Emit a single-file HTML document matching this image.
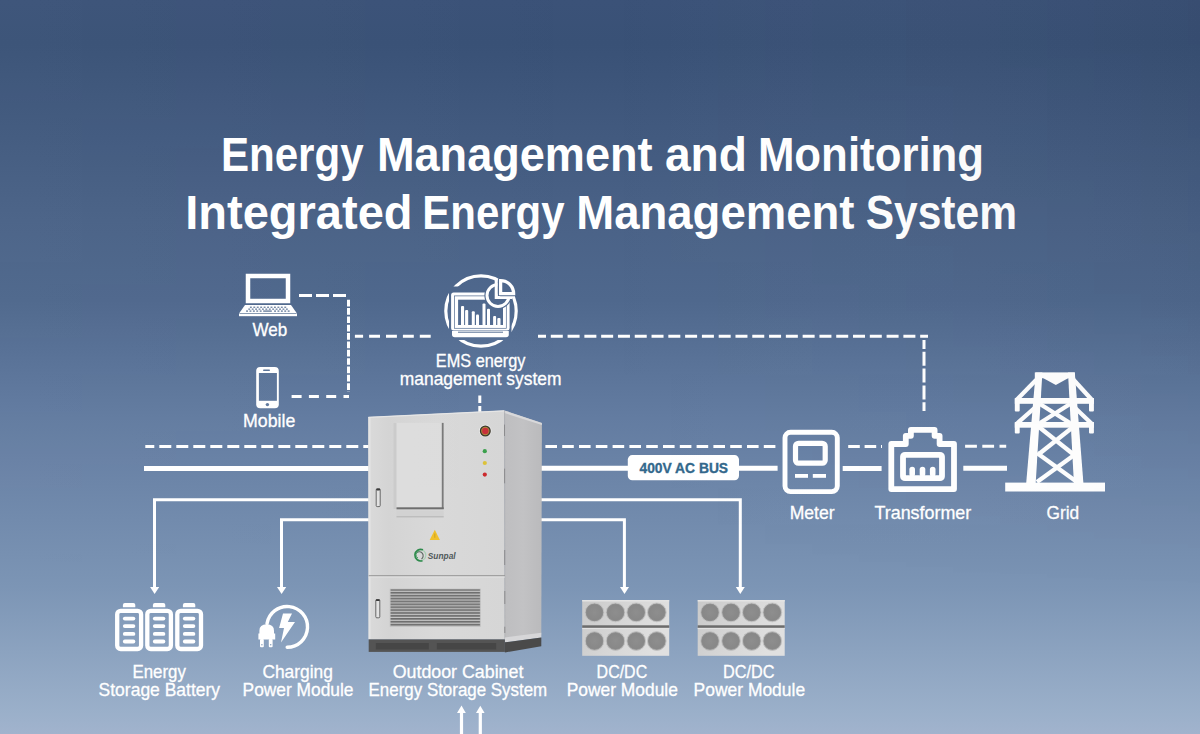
<!DOCTYPE html>
<html><head><meta charset="utf-8">
<style>
html,body{margin:0;padding:0;width:1200px;height:734px;overflow:hidden;background:#5a7399;}
svg{display:block;position:absolute;left:0;top:0;}
text{font-family:"Liberation Sans",sans-serif;}
</style></head>
<body>
<svg width="1200" height="734" viewBox="0 0 1200 734">
<defs>
<linearGradient id="bg" gradientUnits="userSpaceOnUse" x1="0" y1="0" x2="0" y2="734">
<stop offset="0" stop-color="#3b5278"/>
<stop offset="0.06" stop-color="#395176"/>
<stop offset="0.30" stop-color="#4a6287"/>
<stop offset="0.409" stop-color="#4f688d"/>
<stop offset="0.57" stop-color="#637ca1"/>
<stop offset="0.80" stop-color="#7c95b5"/>
<stop offset="0.973" stop-color="#9bb0ca"/>
<stop offset="1" stop-color="#a1b3cd"/>
</linearGradient>
</defs>
<rect x="0" y="0" width="1200" height="734" fill="url(#bg)"/>

<!-- TITLE -->
<g fill="#ffffff" font-weight="bold" font-size="48">
<text x="220.9" y="171" textLength="142.7" lengthAdjust="spacingAndGlyphs">Energy</text>
<text x="377.0" y="171" textLength="275.5" lengthAdjust="spacingAndGlyphs">Management</text>
<text x="664.9" y="171" textLength="82.0" lengthAdjust="spacingAndGlyphs">and</text>
<text x="757.9" y="171" textLength="226.2" lengthAdjust="spacingAndGlyphs">Monitoring</text>
<text x="185.3" y="229" textLength="227.2" lengthAdjust="spacingAndGlyphs">Integrated</text>
<text x="422.3" y="229" textLength="142.3" lengthAdjust="spacingAndGlyphs">Energy</text>
<text x="576.3" y="229" textLength="278.1" lengthAdjust="spacingAndGlyphs">Management</text>
<text x="865.7" y="229" textLength="151.3" lengthAdjust="spacingAndGlyphs">System</text>
</g>

<!-- DASHED LINES -->
<g stroke="#ffffff" stroke-width="3" fill="none">
<line x1="299" y1="295.5" x2="347" y2="295.5" stroke-dasharray="13 4"/>
<line x1="348.5" y1="299.7" x2="348.5" y2="391.8" stroke-dasharray="6.7 1.65"/>
<line x1="354.9" y1="336.3" x2="431" y2="336.3" stroke-dasharray="10.9 6" stroke-dashoffset="2.7"/>
<line x1="291.6" y1="396.5" x2="349" y2="396.5" stroke-dasharray="10 7.3"/>
<line x1="538" y1="336.3" x2="928" y2="336.3" stroke-dasharray="12 4.79" stroke-dashoffset="4"/>
<line x1="924" y1="340" x2="924" y2="411" stroke-dasharray="14 2.8" stroke-dashoffset="5"/>
<line x1="479.8" y1="395.5" x2="479.8" y2="412" stroke-dasharray="7.5 3"/>
<line x1="145.3" y1="446.5" x2="370" y2="446.5" stroke-dasharray="12 5" stroke-dashoffset="3"/>
<line x1="545.4" y1="446.5" x2="776" y2="446.5" stroke-dasharray="11.6 5.2"/>
<line x1="848.2" y1="446.5" x2="882" y2="446.5" stroke-dasharray="11.6 4.8"/>
<line x1="965.1" y1="446.3" x2="1006.2" y2="446.3" stroke-dasharray="11.8 5.4"/>
</g>

<!-- SOLID LINES -->
<g stroke="#ffffff" fill="none">
<line x1="144" y1="468.5" x2="372" y2="468.5" stroke-width="5"/>
<line x1="540" y1="468.3" x2="628" y2="468.3" stroke-width="5"/>
<line x1="738" y1="468.3" x2="777.6" y2="468.3" stroke-width="5"/>
<line x1="842.7" y1="468.4" x2="881.6" y2="468.4" stroke-width="5"/>
<line x1="963.3" y1="468.3" x2="1007" y2="468.3" stroke-width="5"/>
<polyline points="154.5,588 154.5,499.8 372,499.8" stroke-width="3"/>
<polyline points="281.5,588 281.5,519.7 372,519.7" stroke-width="3"/>
<polyline points="540,499.8 740.3,499.8 740.3,588" stroke-width="3"/>
<polyline points="540,519.7 624.4,519.7 624.4,588" stroke-width="3"/>
<line x1="461.5" y1="712" x2="461.5" y2="734" stroke-width="3.2"/>
<line x1="480.3" y1="712" x2="480.3" y2="734" stroke-width="3.2"/>
</g>
<g fill="#ffffff">
<polygon points="150.1,587 159.2,587 154.6,594.1"/>
<polygon points="277,587 286.2,587 281.6,594.1"/>
<polygon points="620,587 629,587 624.5,594.1"/>
<polygon points="735.8,587 744.8,587 740.3,594.1"/>
<polygon points="457,713 465.8,713 461.5,705.6"/>
<polygon points="476,713 484.6,713 480.3,705.8"/>
</g>

<!-- LABELS -->
<g fill="#ffffff" stroke="#ffffff" stroke-width="0.3" font-size="17.8" lengthAdjust="spacingAndGlyphs">
<text x="252.4" y="336" textLength="34.8" lengthAdjust="spacingAndGlyphs">Web</text>
<text x="243.0" y="427" textLength="52.3" lengthAdjust="spacingAndGlyphs">Mobile</text>
<text x="435.8" y="367" textLength="89.7" lengthAdjust="spacingAndGlyphs">EMS energy</text>
<text x="399.8" y="385" textLength="161.7" lengthAdjust="spacingAndGlyphs">management system</text>
<text x="789.7" y="518.5" textLength="44.9" lengthAdjust="spacingAndGlyphs">Meter</text>
<text x="874.5" y="518.5" textLength="96.7" lengthAdjust="spacingAndGlyphs">Transformer</text>
<text x="1046.5" y="518.5" textLength="32.7" lengthAdjust="spacingAndGlyphs">Grid</text>
<text x="132.5" y="678.2" textLength="53.4" lengthAdjust="spacingAndGlyphs">Energy</text>
<text x="98.6" y="695.8" textLength="121.5" lengthAdjust="spacingAndGlyphs">Storage Battery</text>
<text x="262.4" y="678.2" textLength="70.5" lengthAdjust="spacingAndGlyphs">Charging</text>
<text x="242.6" y="695.8" textLength="110.9" lengthAdjust="spacingAndGlyphs">Power Module</text>
<text x="392.7" y="678.2" textLength="130.7" lengthAdjust="spacingAndGlyphs">Outdoor Cabinet</text>
<text x="368.6" y="695.8" textLength="178.6" lengthAdjust="spacingAndGlyphs">Energy Storage System</text>
<text x="596.6" y="678.2" textLength="50.6" lengthAdjust="spacingAndGlyphs">DC/DC</text>
<text x="566.7" y="695.8" textLength="111.2" lengthAdjust="spacingAndGlyphs">Power Module</text>
<text x="723.0" y="678.2" textLength="51.5" lengthAdjust="spacingAndGlyphs">DC/DC</text>
<text x="693.6" y="695.8" textLength="111.5" lengthAdjust="spacingAndGlyphs">Power Module</text>
</g>

<!-- CABINET -->
<defs>
<linearGradient id="sideg" x1="0" y1="0" x2="1" y2="0">
<stop offset="0" stop-color="#bebec0"/>
<stop offset="0.5" stop-color="#c2c2c4"/>
<stop offset="1" stop-color="#bababc"/>
</linearGradient>
<linearGradient id="frontg" x1="0" y1="0" x2="1" y2="0">
<stop offset="0" stop-color="#dadada"/>
<stop offset="0.15" stop-color="#d4d4d4"/>
<stop offset="0.5" stop-color="#d9d9d9"/>
<stop offset="1" stop-color="#d6d6d6"/>
</linearGradient>
<linearGradient id="ventg" x1="0" y1="0" x2="0" y2="1">
<stop offset="0" stop-color="#6a6a6a"/>
<stop offset="0.45" stop-color="#6a6a6a"/>
<stop offset="0.55" stop-color="#d2d2d2"/>
<stop offset="1" stop-color="#d2d2d2"/>
</linearGradient>
<pattern id="ventp" x="0" y="589" width="10" height="2.9" patternUnits="userSpaceOnUse">
<rect x="0" y="0" width="10" height="1.8" fill="#6c6c6c"/>
<rect x="0" y="1.8" width="10" height="1.1" fill="#c4c4c4"/>
</pattern>
</defs>
<g>
<polygon points="504.3,410.4 541.9,422.9 541.3,634.4 504.9,639.4" fill="url(#sideg)"/>
<polygon points="504.3,410.4 541.9,422.9 541.9,425 504.3,413" fill="#d8d8da"/>
<polygon points="368.2,416.9 504.3,410.4 504.9,639.4 368.7,639.4" fill="url(#frontg)"/>
<line x1="369.5" y1="417" x2="369.5" y2="639" stroke="#e4e4e4" stroke-width="2"/>
<line x1="368.4" y1="417.3" x2="504" y2="410.8" stroke="#e6e6e6" stroke-width="1.2"/>
<line x1="504.6" y1="411" x2="504.9" y2="639" stroke="#b0b0b2" stroke-width="0.8"/>
<g stroke="#8c8c8e" stroke-width="1">
<line x1="504.5" y1="424.6" x2="504.5" y2="436"/>
<line x1="504.6" y1="468.6" x2="504.6" y2="483.3"/>
<line x1="504.7" y1="550" x2="504.7" y2="565"/>
<line x1="504.8" y1="591" x2="504.8" y2="604"/>
<line x1="504.8" y1="626.7" x2="504.8" y2="633"/>
</g>
<!-- window -->
<rect x="393.5" y="423" width="4" height="86" fill="#cbcbcb"/>
<rect x="396.5" y="422.9" width="46.5" height="85.9" fill="#dddddd"/>
<rect x="441.8" y="422.9" width="1.8" height="86" fill="#7a7a7a"/>
<rect x="396.5" y="507.3" width="47.2" height="2" fill="#6e6e6e"/>
<rect x="396.5" y="510.6" width="47.2" height="6.5" fill="#d2d2d2"/>
<rect x="396.5" y="516.2" width="47.2" height="1.2" fill="#b9b9b9"/>
<!-- handles -->
<rect x="376.2" y="488.9" width="4" height="17.7" rx="1" fill="#e2e2e2" stroke="#5a5a5a" stroke-width="0.9"/>
<rect x="376.2" y="488.6" width="4" height="1.8" rx="0.8" fill="#3a3a3a"/>
<rect x="375.8" y="599.6" width="4" height="18.2" rx="1" fill="#e2e2e2" stroke="#5a5a5a" stroke-width="0.9"/>
<rect x="375.8" y="599.3" width="4" height="1.8" rx="0.8" fill="#3a3a3a"/>
<!-- button & leds -->
<circle cx="485.3" cy="431" r="6.2" fill="#ececec"/>
<circle cx="485.3" cy="431" r="5.5" fill="#3c382c"/>
<circle cx="485.3" cy="431" r="4.2" fill="#a88a3c"/>
<circle cx="485.3" cy="431" r="3.2" fill="#c8303a"/>
<circle cx="484.8" cy="451.2" r="2.1" fill="#3aa04c"/>
<circle cx="484.8" cy="463" r="2.1" fill="#dcc23a"/>
<circle cx="484.8" cy="474.6" r="2.1" fill="#cc2a2e"/>
<!-- warning -->
<polygon points="434.8,529.7 439.9,539.9 429.7,539.9" fill="#f0c02c"/>
<line x1="434.8" y1="533.5" x2="434.8" y2="537.8" stroke="#c89a20" stroke-width="0.8"/>
<!-- logo -->
<circle cx="420.2" cy="555.2" r="5.6" fill="none" stroke="#a9cfb4" stroke-width="1.2"/>
<path d="M423 549.8 A5.8 5.8 0 1 0 422.5 560.7" fill="none" stroke="#2e8a4c" stroke-width="1.7"/>
<path d="M416.8 552.5 A3.9 3.9 0 1 1 421.5 559" fill="none" stroke="#5f6b64" stroke-width="1.1"/>
<path d="M418.5 551.5 A3.5 3.5 0 0 0 418 558" fill="none" stroke="#4e9e68" stroke-width="1"/>
<text x="427.8" y="559.2" font-size="9" font-weight="bold" font-style="italic" fill="#50585a" textLength="27.8" lengthAdjust="spacingAndGlyphs">Sunpal</text>
<!-- divider -->
<line x1="368.7" y1="575.8" x2="504.9" y2="575.8" stroke="#8a8a8a" stroke-width="1"/>
<line x1="368.7" y1="577" x2="504.9" y2="577" stroke="#e2e2e2" stroke-width="1"/>
<!-- vent -->
<rect x="390.1" y="589" width="90.2" height="37.5" fill="url(#ventp)"/>
<rect x="390.1" y="589" width="90.2" height="37.5" fill="none" stroke="#c4c4c4" stroke-width="0.8"/>
<!-- side bottom ledge -->
<polygon points="504.9,637.5 541.3,632.8 541.3,637.6 504.9,642.3" fill="#d6d6d8"/>
<!-- plinth -->
<rect x="368.7" y="639.4" width="136.2" height="12.5" fill="#545454"/>
<rect x="375.8" y="643" width="53" height="6.5" fill="#464646"/>
<rect x="436.8" y="643" width="59.4" height="6.5" fill="#464646"/>
<polygon points="504.9,642.3 541.3,637.6 541.3,646.3 504.9,652.4" fill="#4a4a4a"/>
<line x1="368.7" y1="639.6" x2="541.3" y2="634.6" stroke="#e0e0e0" stroke-width="0"/>
</g>

<!-- WEB ICON -->
<g>
<rect x="248" y="276" width="40" height="25" fill="none" stroke="#fff" stroke-width="4.5"/>
<polygon points="245,305 291,305 297,313.6 239,313.6" fill="#fff"/>
<rect x="239" y="313.4" width="58" height="2.8" fill="#fff"/>
<line x1="239.5" y1="313.5" x2="296.5" y2="313.5" stroke="url(#bg)" stroke-width="0.6"/>
<g fill="url(#bg)" opacity="0.85">
<rect x="249.90" y="306.6" width="1.9" height="1.3"/>
<rect x="253.34" y="306.6" width="1.9" height="1.3"/>
<rect x="256.78" y="306.6" width="1.9" height="1.3"/>
<rect x="260.22" y="306.6" width="1.9" height="1.3"/>
<rect x="263.66" y="306.6" width="1.9" height="1.3"/>
<rect x="267.10" y="306.6" width="1.9" height="1.3"/>
<rect x="270.54" y="306.6" width="1.9" height="1.3"/>
<rect x="273.98" y="306.6" width="1.9" height="1.3"/>
<rect x="277.42" y="306.6" width="1.9" height="1.3"/>
<rect x="280.86" y="306.6" width="1.9" height="1.3"/>
<rect x="284.30" y="306.6" width="1.9" height="1.3"/>
<rect x="248.30" y="308.5" width="1.9" height="1.3"/>
<rect x="251.72" y="308.5" width="1.9" height="1.3"/>
<rect x="255.14" y="308.5" width="1.9" height="1.3"/>
<rect x="258.55" y="308.5" width="1.9" height="1.3"/>
<rect x="261.97" y="308.5" width="1.9" height="1.3"/>
<rect x="265.39" y="308.5" width="1.9" height="1.3"/>
<rect x="268.81" y="308.5" width="1.9" height="1.3"/>
<rect x="272.23" y="308.5" width="1.9" height="1.3"/>
<rect x="275.65" y="308.5" width="1.9" height="1.3"/>
<rect x="279.06" y="308.5" width="1.9" height="1.3"/>
<rect x="282.48" y="308.5" width="1.9" height="1.3"/>
<rect x="285.90" y="308.5" width="1.9" height="1.3"/>
<rect x="246.10" y="310.4" width="1.9" height="1.4"/>
<rect x="249.50" y="310.4" width="1.9" height="1.4"/>
<rect x="252.90" y="310.4" width="1.9" height="1.4"/>
<rect x="256.30" y="310.4" width="1.9" height="1.4"/>
<rect x="259.70" y="310.4" width="1.9" height="1.4"/>
<rect x="263.2" y="310.4" width="8.6" height="1.4"/>
<rect x="274.10" y="310.4" width="1.9" height="1.4"/>
<rect x="277.50" y="310.4" width="1.9" height="1.4"/>
<rect x="280.90" y="310.4" width="1.9" height="1.4"/>
<rect x="284.30" y="310.4" width="1.9" height="1.4"/>
<rect x="287.70" y="310.4" width="1.9" height="1.4"/>
</g>
</g>

<!-- MOBILE ICON -->
<g>
<rect x="256.2" y="367" width="22.6" height="41.2" rx="4" fill="#fff"/>
<rect x="258.9" y="373" width="18" height="27.8" fill="url(#bg)"/>
<rect x="263" y="369.4" width="7" height="1.6" rx="0.8" fill="url(#bg)"/>
<circle cx="267.4" cy="404.6" r="1.7" fill="url(#bg)"/>
</g>

<!-- EMS ICON -->
<g>
<circle cx="481" cy="311" r="35.2" fill="none" stroke="#fff" stroke-width="3.2"/>
<rect x="449" y="286.5" width="62.5" height="53.5" rx="3" fill="url(#bg)"/>
<rect x="451.1" y="292.4" width="58.5" height="38" rx="2.5" fill="#fff"/>
<rect x="458.1" y="299.7" width="44.9" height="25.3" fill="url(#bg)"/>
<rect x="454.6" y="295.9" width="51.7" height="32.4" fill="none" stroke="url(#bg)" stroke-width="0.7"/>
<path d="M452 331 H508.8 V334.5 Q508.8 337.3 506 337.3 H454.8 Q452 337.3 452 334.5 Z" fill="#fff"/>
<line x1="458" y1="332.2" x2="503" y2="332.2" stroke="url(#bg)" stroke-width="1"/>
<g fill="#fff">
<rect x="461" y="305.9" width="3.1" height="20" rx="1"/>
<rect x="465.1" y="310" width="3.1" height="16" rx="1"/>
<rect x="471.8" y="311.2" width="3" height="15" rx="1"/>
<rect x="476" y="314.4" width="3" height="12" rx="1"/>
<rect x="482.5" y="303.4" width="3" height="22" rx="1"/>
<rect x="487" y="308.7" width="3" height="17" rx="1"/>
<rect x="493.1" y="316.1" width="3" height="10" rx="1"/>
<rect x="497.3" y="318.1" width="3.2" height="8" rx="1"/>
</g>
<circle cx="498" cy="295.5" r="13.6" fill="url(#bg)"/>
<circle cx="498" cy="295.5" r="11" fill="none" stroke="#fff" stroke-width="3"/>
<path d="M496.3 280 V297.5 H512" fill="none" stroke="#fff" stroke-width="3.2"/>
<path d="M500.6 293.6 V280.6 A13 13 0 0 1 513.6 293.6 Z" fill="url(#bg)" stroke="url(#bg)" stroke-width="5.5" stroke-linejoin="round"/>
<path d="M500.6 293.6 V280.6 A13 13 0 0 1 513.6 293.6 Z" fill="none" stroke="#fff" stroke-width="3.3" stroke-linejoin="miter"/>
</g>

<!-- METER ICON -->
<g fill="none" stroke="#fff">
<rect x="785" y="432.3" width="52.3" height="59.3" rx="5.5" stroke-width="4.9"/>
<rect x="795.5" y="443.3" width="29.7" height="19.9" rx="3" stroke-width="5.2"/>
</g>
<rect x="795" y="474" width="13" height="3.8" fill="#fff"/>
<rect x="812.8" y="474" width="13.2" height="3.8" fill="#fff"/>

<!-- TRANSFORMER ICON -->
<g fill="none" stroke="#fff" stroke-width="5.8" stroke-linejoin="round">
<path d="M891.3 444 H905.8 V435.8 H910.9 V429.9 H934.6 V435.8 H939.6 V444 H954 V489.1 H891.3 Z"/>
<rect x="903" y="454.8" width="39" height="23.4" rx="2"/>
</g>
<g fill="#fff">
<rect x="909.4" y="466.8" width="5.6" height="10" rx="2.8"/>
<rect x="919.7" y="466.8" width="5.6" height="10" rx="2.8"/>
<rect x="929.9" y="466.8" width="5.6" height="10" rx="2.8"/>
</g>

<!-- GRID TOWER -->
<g fill="#fff">
<rect x="1005.2" y="482.6" width="99.8" height="8.9"/>
<rect x="1034.8" y="372.4" width="40" height="5.8"/>
<polygon points="1035.7,372.4 1042.4,372.4 1035.7,483 1026.2,483"/>
<polygon points="1068,372.4 1074.8,372.4 1083.4,483 1073.9,483"/>
<rect x="1014.8" y="398" width="79.1" height="5.8"/>
<rect x="1014.8" y="398" width="4.9" height="13.5" rx="1"/>
<rect x="1089" y="398" width="4.9" height="13.5" rx="1"/>
<rect x="1014.8" y="422" width="79.1" height="5.7"/>
<rect x="1014.8" y="422" width="4.9" height="11.4" rx="1"/>
<rect x="1089" y="422" width="4.9" height="11.4" rx="1"/>
<polygon points="1043,378 1068.5,378 1055.8,385"/>
</g>
<g stroke="#fff" stroke-width="4.3" fill="none">
<line x1="1039" y1="377" x2="1016.5" y2="400"/>
<line x1="1071" y1="377" x2="1092" y2="400"/>
<line x1="1039" y1="404" x2="1016.5" y2="424"/>
<line x1="1071" y1="404" x2="1092" y2="424"/>
<line x1="1040" y1="404" x2="1070" y2="423"/>
<line x1="1070" y1="404" x2="1040" y2="423"/>
<line x1="1039" y1="427" x2="1073" y2="454"/>
<line x1="1073" y1="427" x2="1039" y2="454"/>
<line x1="1037" y1="453" x2="1077" y2="482"/>
<line x1="1077" y1="453" x2="1037" y2="482"/>
</g>

<!-- BATTERY ICON -->
<g>
<g fill="none" stroke="#fff" stroke-width="4.3">
<rect x="117.2" y="610.8" width="23.9" height="38.2" rx="3.5"/>
<rect x="147.3" y="610.8" width="23.6" height="38.2" rx="3.5"/>
<rect x="177.3" y="610.8" width="23.7" height="38.2" rx="3.5"/>
</g>
<g fill="#fff">
<path d="M122.9 607.3 V604.9 Q122.9 602.9 124.9 602.9 H133.3 Q135.3 602.9 135.3 604.9 V607.3 Z"/>
<path d="M152.9 607.3 V604.9 Q152.9 602.9 154.9 602.9 H163.3 Q165.3 602.9 165.3 604.9 V607.3 Z"/>
<path d="M182.9 607.3 V604.9 Q182.9 602.9 184.9 602.9 H193.3 Q195.3 602.9 195.3 604.9 V607.3 Z"/>
<rect x="122.9" y="616.7" width="12.4" height="3.8" rx="1.9"/>
<rect x="122.9" y="624.2" width="12.4" height="3.8" rx="1.9"/>
<rect x="122.9" y="632" width="12.4" height="3.8" rx="1.9"/>
<rect x="122.9" y="639.6" width="12.4" height="3.8" rx="1.9"/>
<rect x="152.9" y="616.7" width="12.4" height="3.8" rx="1.9"/>
<rect x="152.9" y="624.2" width="12.4" height="3.8" rx="1.9"/>
<rect x="152.9" y="632" width="12.4" height="3.8" rx="1.9"/>
<rect x="152.9" y="639.6" width="12.4" height="3.8" rx="1.9"/>
<rect x="182.9" y="616.7" width="12.4" height="3.8" rx="1.9"/>
<rect x="182.9" y="624.2" width="12.4" height="3.8" rx="1.9"/>
<rect x="182.9" y="632" width="12.4" height="3.8" rx="1.9"/>
<rect x="182.9" y="639.6" width="12.4" height="3.8" rx="1.9"/>
</g>
</g>

<!-- CHARGING ICON -->
<g>
<path d="M287.2 647.3 A20.4 20.4 0 1 0 267 623.6" fill="none" stroke="#fff" stroke-width="3.4" stroke-linecap="round"/>
<path d="M258.4 639.6 V633.6 H259.4 V630.8 Q259.4 624.3 266.7 624.3 Q274 624.3 274 630.8 V633.6 H275.2 V639.6 Z" fill="#fff"/>
<rect x="260" y="639" width="3.8" height="8.2" rx="1" fill="#fff"/>
<rect x="268.8" y="639" width="3.8" height="8.2" rx="1" fill="#fff"/>
<circle cx="261.9" cy="644.8" r="0.8" fill="url(#bg)"/>
<circle cx="270.7" cy="644.8" r="0.8" fill="url(#bg)"/>
<polygon points="283,613.4 292,613.4 287.8,622 295,622 281,642.5 284,628.1 279.1,628.1" fill="#fff"/>
</g>

<!-- DC/DC MODULES -->
<defs>
<linearGradient id="dcg" x1="0" y1="0" x2="1" y2="0.3">
<stop offset="0" stop-color="#c9c9c9"/>
<stop offset="0.5" stop-color="#d6d6d6"/>
<stop offset="1" stop-color="#e0e0e0"/>
</linearGradient>
<radialGradient id="dccirc" cx="0.5" cy="0.5" r="0.5">
<stop offset="0" stop-color="#8e8e8e"/>
<stop offset="0.8" stop-color="#888888"/>
<stop offset="1" stop-color="#9a9a9a"/>
</radialGradient>
</defs>
<g id="dc1">
<rect x="582.2" y="600" width="87" height="55.8" fill="url(#dcg)"/>
<rect x="582.2" y="600" width="87" height="1.5" fill="#e4e4e4"/>
<rect x="582.2" y="625.3" width="87" height="2.6" fill="#6c6c6c"/>
<rect x="582.2" y="627.9" width="87" height="1.2" fill="#e2e2e2"/>
<g fill="url(#dccirc)" stroke="#c4c4c4" stroke-width="0.9">
<circle cx="594.5" cy="612.4" r="9.4"/><circle cx="615.5" cy="612.4" r="9.4"/><circle cx="636.2" cy="612.4" r="9.4"/><circle cx="656.8" cy="612.4" r="9.4"/>
<circle cx="594.5" cy="641" r="9.4"/><circle cx="615.5" cy="641" r="9.4"/><circle cx="636.2" cy="641" r="9.4"/><circle cx="656.8" cy="641" r="9.4"/>
</g>
</g>
<use href="#dc1" x="115.5" y="0"/>

<!-- AC BUS LABEL -->
<rect x="627.8" y="455.1" width="111.2" height="25.1" rx="4.5" fill="#ffffff"/>
<text x="639.5" y="473" font-size="15.4" font-weight="bold" fill="#33688c" stroke="#33688c" stroke-width="0.35" textLength="88.6" lengthAdjust="spacingAndGlyphs">400V AC BUS</text>

<!-- tint overlay -->
<defs>
<linearGradient id="tintg" gradientUnits="userSpaceOnUse" x1="0" y1="0" x2="1200" y2="0">
<stop offset="0" stop-color="#ffffff" stop-opacity="0.025"/>
<stop offset="0.5" stop-color="#ffffff" stop-opacity="0"/>
<stop offset="1" stop-color="#000000" stop-opacity="0.05"/>
</linearGradient>
<linearGradient id="tintm" gradientUnits="userSpaceOnUse" x1="0" y1="0" x2="0" y2="600">
<stop offset="0" stop-color="#fff"/>
<stop offset="0.4" stop-color="#fff" stop-opacity="0.8"/>
<stop offset="1" stop-color="#fff" stop-opacity="0"/>
</linearGradient>
<mask id="tintmask" maskUnits="userSpaceOnUse" x="0" y="0" width="1200" height="734"><rect x="0" y="0" width="1200" height="734" fill="url(#tintm)"/></mask>
</defs>
<rect x="0" y="0" width="1200" height="734" fill="url(#tintg)" mask="url(#tintmask)"/>
</svg>
</body></html>
